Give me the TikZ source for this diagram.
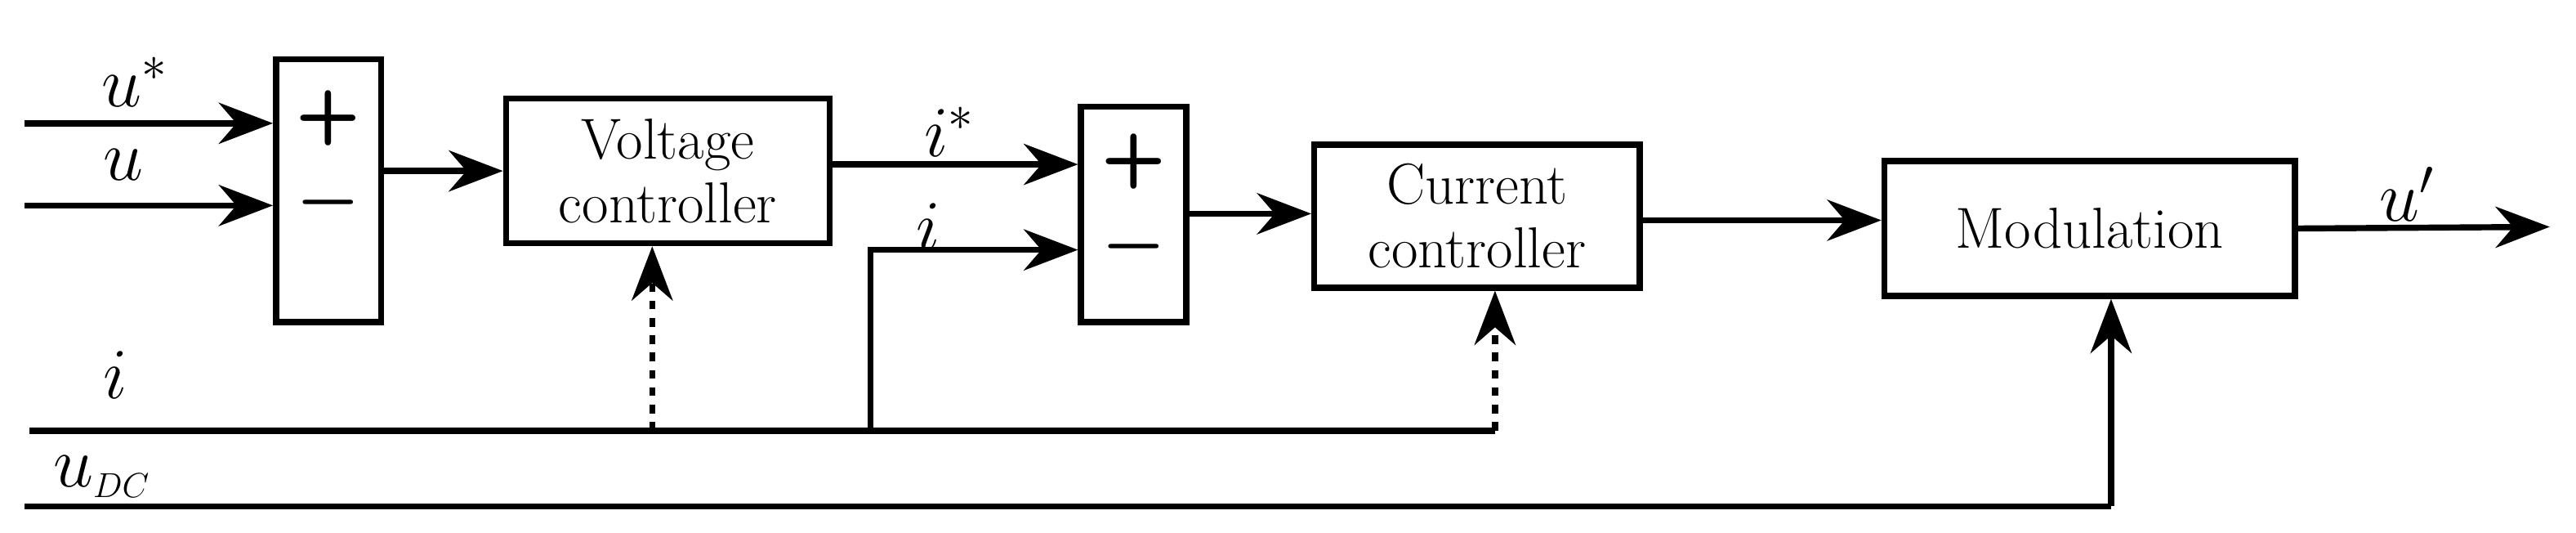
\documentclass[tikz,border=0pt]{standalone}
\usepackage{amsmath}
\usepackage{amssymb}
\usetikzlibrary{arrows.meta}
\tikzset{
  blk/.style={rectangle, draw=black, line width=2.1pt, inner sep=0pt, align=center,
    font=\fontsize{20}{22}\selectfont},
  sig/.style={line width=2.1pt, -{Stealth[length=0.66cm,width=0.5cm]}},
  bus/.style={line width=2.1pt},
  lbl/.style={font=\fontsize{26}{28}\selectfont},
  pm/.style={font=\fontsize{26}{28}\sffamily\bfseries}
}
\begin{document}
\begin{tikzpicture}[x=0.02cm,y=-0.02cm]
\useasboundingbox (0,0) rectangle (1568,324);
% blocks
\node[blk,minimum width=1.28cm,minimum height=3.2cm] (s1) at (200,116) {};
\node[pm] at (200,72) {+};
\node[pm] at (200,123) {$\boldsymbol{-}$};
\node[blk,minimum width=3.94cm,minimum height=1.76cm] (vc) at (406.5,104) {Voltage\\controller};
\node[blk,minimum width=1.28cm,minimum height=2.62cm] (s2) at (690,130.5) {};
\node[pm] at (690,98) {+};
\node[pm] at (690,150) {$\boldsymbol{-}$};
\node[blk,minimum width=3.96cm,minimum height=1.74cm] (cc) at (899,131.5) {Current\\controller};
\node[blk,minimum width=5cm,minimum height=1.64cm] (mod) at (1272,139) {Modulation};
% free ends
\coordinate (ust) at (15,75);
\coordinate (uin) at (15,125);
\coordinate (ib0) at (18,262);
\coordinate (ib1) at (910,262);
\coordinate (vtap) at (397,262);
\coordinate (itap) at (530,262);
\coordinate (udc0) at (15,308);
\coordinate (udc1) at (1285,308);
\coordinate (uout) at (1552,138);
% connectors
\draw[sig] (ust) -- (ust -| s1.west);
\draw[sig] (uin) -- (uin -| s1.west);
\draw[sig] (s1.east |- vc.west) -- (vc.west);
\draw[sig] (vc.east |- 0,100) -- (s2.west |- 0,100);
\draw[sig] (itap) -- (530,152) -- (s2.west |- 0,152);
\draw[sig] (s2.east |- 0,130) -- (cc.west |- 0,130);
\draw[sig] (cc.east |- 0,134) -- (mod.west |- 0,134);
\draw[sig] (mod.east) -- (uout);
\draw[bus] (ib0) -- (ib1);
\draw[sig,dashed] (vtap) -- (vtap |- vc.south);
\draw[sig,dashed] (ib1) -- (ib1 |- cc.south);
\draw[bus] (udc0) -- (udc1);
\draw[sig] (udc1) -- (udc1 |- mod.south);
% labels
\node[lbl] at (82,50) {$u^{*}$};
\node[lbl] at (75,100) {$u$};
\node[lbl] at (578,80) {$i^{*}$};
\node[lbl] at (565,138) {$i$};
\node[lbl] at (70,228) {$i$};
\node[lbl] at (62,290) {$u_{\scriptscriptstyle DC}$};
\node[lbl] at (1465,118) {$u'$};
\end{tikzpicture}
\end{document}
